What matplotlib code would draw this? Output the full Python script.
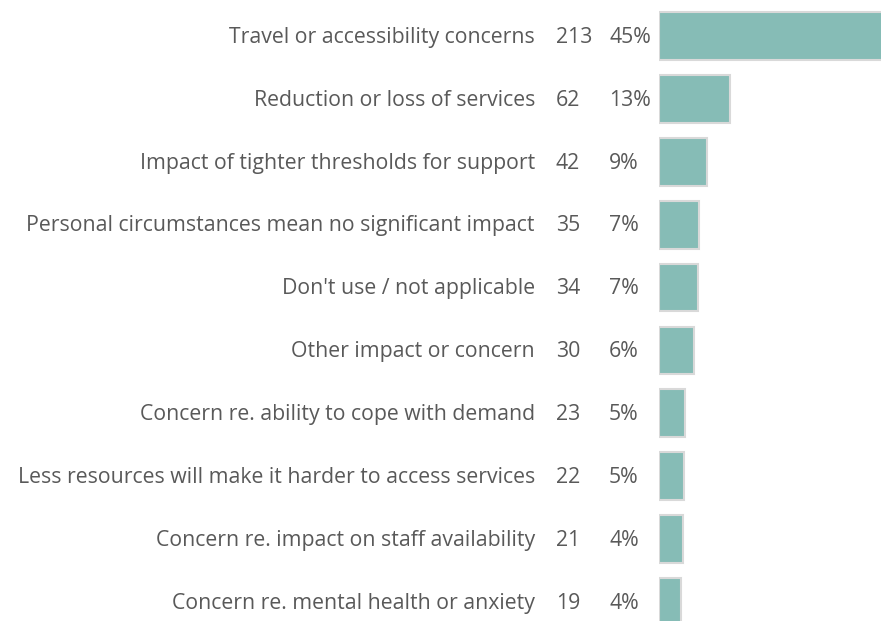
import matplotlib.pyplot as plt
import matplotlib.transforms as mtransforms

labels = [
    "Travel or accessibility concerns",
    "Reduction or loss of services",
    "Impact of tighter thresholds for support",
    "Personal circumstances mean no significant impact",
    "Don't use / not applicable",
    "Other impact or concern",
    "Concern re. ability to cope with demand",
    "Less resources will make it harder to access services",
    "Concern re. impact on staff availability",
    "Concern re. mental health or anxiety",
]
counts = [213, 62, 42, 35, 34, 30, 23, 22, 21, 19]
percents = ["45%", "13%", "9%", "7%", "7%", "6%", "5%", "5%", "4%", "4%"]

W, H = 881, 621
fig = plt.figure(figsize=(W / 100, H / 100), dpi=100)
plt.rcParams["font.family"] = ["Open Sans", "DejaVu Sans"]

# bar area starts at x=659px; scale ~1.15 px per response so the top bar runs off the edge
ax_left = 659 / W
ax = fig.add_axes([ax_left, (H - 633.5) / H, 1 - ax_left, 629 / H])
pos = list(range(len(labels)))
ax.barh(pos, counts, height=0.76, color="#86bcb6", edgecolor="#d9d9d9", linewidth=1.5)
ax.set_xlim(0, (W - 659) / 1.15)
ax.set_ylim(len(labels) - 0.5, -0.5)
ax.axis("off")

tr = mtransforms.blended_transform_factory(fig.transFigure, ax.transData)
txt = dict(color="#595959", fontsize=15.3, va="center", transform=tr)
for i in pos:
    fig.text(535 / W, i + 0.02, labels[i], ha="right", **txt)
    fig.text(556 / W, i + 0.02, str(counts[i]), ha="left", **txt)
    fig.text(609 / W, i + 0.02, percents[i], ha="left", **txt)

fig.savefig("out.png", dpi=100)
